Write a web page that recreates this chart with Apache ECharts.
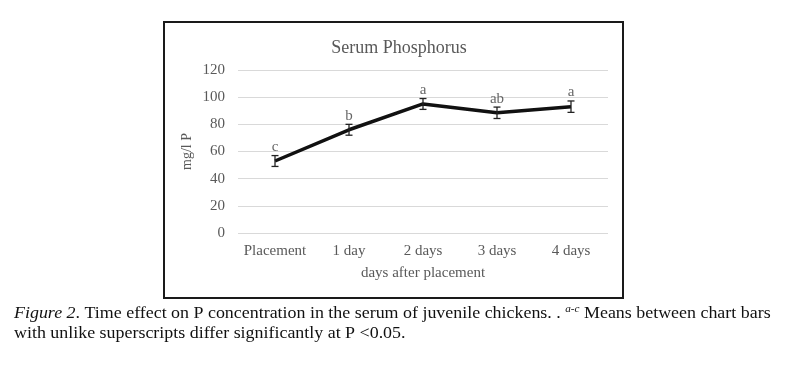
<!DOCTYPE html>
<html><head><meta charset="utf-8">
<script src="https://cdn.jsdelivr.net/npm/echarts@6/dist/echarts.min.js"></script>
<style>html,body{margin:0;padding:0;background:#fff}#c{width:790px;height:368px}</style>
</head><body><div id="c"></div>
<script>
const categories = ['Placement', '1 day', '2 days', '3 days', '4 days'];
const means = [53, 76, 95, 88.5, 93];
const errors = [4, 4, 4, 4.2, 4.2];
const letters = ['c', 'b', 'a', 'ab', 'a'];
const yTicks = [0, 20, 40, 60, 80, 100, 120];

const serif = '"Liberation Serif", "Times New Roman", serif';
const chart = echarts.init(document.getElementById('c'));
chart.setOption({
  animation: false,
  backgroundColor: '#fff',
  title: {
    text: 'Serum Phosphorus', left: 394, top: 34, textAlign: 'center',
    textStyle: {fontFamily: serif, fontSize: 18, fontWeight: 'normal', color: '#595959'}
  },
  grid: {left: 238, right: 182, top: 70, bottom: 135},
  xAxis: {
    type: 'category', data: categories,
    axisLine: {show: false}, axisTick: {show: false},
    axisLabel: {fontFamily: serif, fontSize: 15, color: '#595959', margin: 11, interval: 0},
    name: 'days after placement', nameLocation: 'middle', nameGap: 33,
    nameTextStyle: {fontFamily: serif, fontSize: 15, color: '#595959'}
  },
  yAxis: {
    type: 'value', min: yTicks[0], max: yTicks[yTicks.length - 1], interval: 20,
    axisLine: {show: false}, axisTick: {show: false},
    axisLabel: {fontFamily: serif, fontSize: 15, color: '#595959', margin: 13},
    splitLine: {lineStyle: {color: '#d9d9d9', width: 1}},
    name: 'mg/l P', nameLocation: 'middle', nameGap: 44, nameRotate: 90,
    nameTextStyle: {fontFamily: serif, fontSize: 14, color: '#595959'}
  },
  series: [
    {
      type: 'line', data: means, symbol: 'none',
      lineStyle: {color: '#111', width: 3.5}, z: 3
    },
    {
      type: 'custom', z: 4,
      data: means.map((m, i) => [i, m - errors[i], m + errors[i]]),
      renderItem: function (params, api) {
        const lo = api.coord([api.value(0), api.value(1)]);
        const hi = api.coord([api.value(0), api.value(2)]);
        const w = 3.5;
        const st = {stroke: '#222', lineWidth: 1.3};
        return {type: 'group', children: [
          {type: 'line', shape: {x1: lo[0], y1: lo[1], x2: hi[0], y2: hi[1]}, style: st},
          {type: 'line', shape: {x1: lo[0] - w, y1: lo[1], x2: lo[0] + w, y2: lo[1]}, style: st},
          {type: 'line', shape: {x1: hi[0] - w, y1: hi[1], x2: hi[0] + w, y2: hi[1]}, style: st}
        ]};
      }
    },
    {
      type: 'scatter', symbolSize: 0,
      data: means.map((m, i) => m + errors[i]),
      label: {
        show: true, position: 'top', distance: 1,
        formatter: p => letters[p.dataIndex],
        fontFamily: serif, fontSize: 15, color: '#404040'
      }
    }
  ],
  graphic: [
    {type: 'rect', shape: {x: 164, y: 22, width: 459, height: 276},
     style: {fill: 'none', stroke: '#1a1a1a', lineWidth: 2}, z: 10},
    {type: 'text', x: 14, y: 304, scaleX: 1.12, z: 10,
     style: {
       text: '{i|Figure 2}. Time effect on P concentration in the serum of juvenile chickens. . {s|a-c} Means between chart bars\nwith unlike superscripts differ significantly at P <0.05.',
       fontFamily: serif, fontSize: 16, fill: '#111', lineHeight: 20,
       rich: {
         i: {fontFamily: serif, fontSize: 16, fontStyle: 'italic', fill: '#111'},
         s: {fontFamily: serif, fontSize: 10, fontStyle: 'italic', fill: '#111', verticalAlign: 'top', padding: [0, 0, 7, 0]}
       }
     }}
  ]
});
</script></body></html>
